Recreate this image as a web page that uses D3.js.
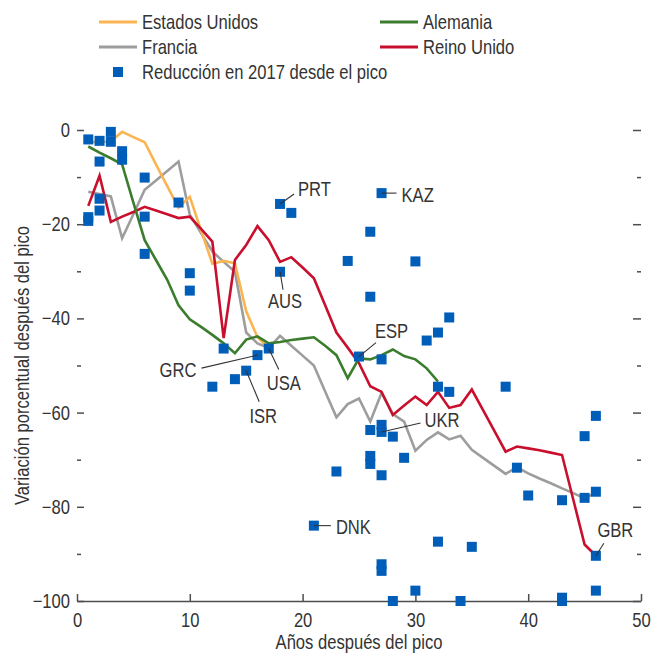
<!DOCTYPE html>
<html><head><meta charset="utf-8">
<script src="https://cdn.jsdelivr.net/npm/d3@7"></script>
<style>
body{margin:0;background:#fff}
svg text{font-family:"Liberation Sans Narrow","Arial Narrow","Liberation Sans",sans-serif;font-size:20px;fill:#333}
</style></head><body>
<svg id="c" width="653" height="654"></svg>
<script>
// ---------- data ----------
const usYears   = [1,2,3,4,5,6,7,8,9,10,11,12,13,14,15,16,17];
const usValues  = [-2.5,-2.6,-2.4,-0.4,-1.5,-2.6,-7.3,-11.9,-16.5,-14.2,-21.3,-28.4,-27.8,-28.3,-38.5,-44.0,-46.3];

const deYears   = [1,2,3,4,5,6,7,8,9,10,11,12,13,14,15,16,17,18,19,20,21,22,23,24,25,26,27,28,29,30,31,32];
const deValues  = [-3.5,-4.8,-6.0,-7.3,-15.4,-23.4,-27.6,-31.8,-37.2,-40.2,
                   -41.8,-43.5,-45.3,-47.4,-44.5,-43.8,-45.3,-45.0,-44.6,-44.3,
                   -44.0,-45.8,-47.8,-52.7,-48.5,-48.7,-47.8,-46.6,-48.0,-48.7,
                   -50.6,-53.4];

const frYears   = [1,2,3,4,5,6,7,8,9,10,11,12,13,14,15,16,17,18,19,20,21,22,23,24,25,26,27,28,29,30,31,32,33,34,35,36,37,38,39,40,41,42,43,44,45,46];
const frValues  = [-13.1,-13.6,-14.1,-23.0,-17.9,-12.7,-10.7,-8.7,-6.7,-18.0,
                   -21.9,-25.8,-28.0,-30.1,-43.0,-45.3,-46.3,-43.7,-45.8,-47.9,
                   -50.0,-55.5,-61.0,-58.2,-57.0,-61.9,-55.8,-60.3,-61.9,-68.1,
                   -65.8,-64.2,-65.7,-64.9,-67.9,-69.6,-71.3,-73.0,-71.6,-72.9,
                   -74.0,-75.0,-76.1,-77.1,-78.2,-77.0];

const ukYears   = [1,2,3,4,5,6,7,8,9,10,11,12,13,14,15,16,17,18,19,20,21,22,23,24,25,26,27,28,29,30,31,32,33,34,35,36,37,38,39,40,41,42,43,44,45,46];
const ukValues  = [-16.1,-9.7,-19.5,-18.4,-17.4,-16.3,-17.1,-17.9,-18.7,-18.4,
                   -21.0,-23.7,-44.2,-27.6,-24.4,-20.4,-23.4,-28.0,-27.0,-29.2,
                   -31.5,-37.2,-43.0,-46.2,-49.5,-54.4,-55.6,-60.5,-58.5,-56.6,
                   -58.4,-55.6,-59.0,-58.4,-55.1,-59.5,-63.9,-68.3,-67.2,-67.6,
                   -68.0,-68.5,-69.0,-78.5,-88.0,-90.4];

// Reducción en 2017 desde el pico (one square per country)
const dotYears  = [1,1,1, 2,2,2,2, 3,3, 4,4, 6,6,6, 9, 10,10, 12, 13, 14, 15, 16, 17, 18,18, 19, 21, 23, 24, 25,
                   26,26,26,26,26, 27,27,27,27,27,27,27, 28,28, 29, 30,30, 31, 32,32,32, 33,33, 34, 35, 38, 39, 40,
                   43,43,43, 45,45, 46,46,46,46];
const dotValues = [-2.0,-18.5,-19.3, -2.3,-6.7,-14.6,-17.1, -0.4,-2.5, -4.5,-6.3, -10.1,-18.4,-26.3, -15.4, -30.4,-34.1, -54.5, -46.4, -52.9, -51.1, -47.8, -46.4, -15.7,-30.1, -17.6, -84.0, -72.5, -27.8, -48.1,
                   -21.6,-35.4,-63.7,-69.2,-70.9, -13.4,-48.7,-62.6,-64.1,-73.3,-92.2,-93.6, -65.1,-100, -69.6, -27.9,-97.8, -44.7, -43.0,-54.5,-87.4, -39.8,-55.6, -100, -88.5, -54.5, -71.7, -77.6,
                   -78.6,-99.3,-100, -65.0,-78.1, -60.7,-76.8,-90.4,-97.8];

const labelNames  = ["PRT","KAZ","AUS","ESP","GRC","USA","ISR","UKR","DNK","GBR"];
const labelYears  = [18,27,18,25,16,17,15,27,21,46];
const labelValues = [-15.7,-13.4,-30.1,-48.1,-47.8,-46.4,-51.1,-64.1,-84.0,-90.4];

const xTicks = [0,10,20,30,40,50];
const xTickLabels = ["0","10","20","30","40","50"];
const yTicks = [0,-20,-40,-60,-80,-100];
const yTickLabels = ["0","\u221220","\u221240","\u221260","\u221280","\u2212100"];
const yMinorTicks = [-10,-30,-50,-70,-90];

const seriesNames = ["Estados Unidos","Alemania","Francia","Reino Unido"];
const dotName = "Reducción en 2017 desde el pico";
const xTitle = "Años después del pico";
const yTitle = "Variación porcentual después del pico";

// ---------- layout / style ----------
const colors = {us:"#fbb452", de:"#3a7d2c", fr:"#9d9d9d", uk:"#c8102e", dot:"#005eb8"};
const SX = 0.83; // horizontal condensing of the sans font
const annotLayout = {
  PRT:{l:[14,-10], t:[18,-8,"start"]},
  KAZ:{l:[15,0],   t:[20,8.5,"start"]},
  AUS:{l:[3,18],   t:[5,36.5,"middle"]},
  ESP:{l:[17,-14], t:[16,-19,"start"]},
  GRC:{l:[-56,13], t:[-61,22,"end"]},
  USA:{l:[10,21],  t:[15,41,"middle"]},
  ISR:{l:[13,31],  t:[17,52,"middle"]},
  UKR:{l:[39,-9],  t:[43,-5,"start"]},
  DNK:{l:[17,0],   t:[22,8,"start"]},
  GBR:{l:[8,-12.5],t:[1.5,-19,"start"]}
};

function condense(sel, extra){
  sel.each(function(){
    const t = d3.select(this);
    const tx = +t.attr("x")||0, ty = +t.attr("y")||0;
    t.attr("x",0).attr("y",0)
     .attr("transform",`translate(${tx},${ty})${extra||""} scale(${SX},1)`);
  });
}

const svg = d3.select("#c");
const x = d3.scaleLinear().domain([0,50]).range([77,641]);
const y = d3.scaleLinear().domain([-100,0]).range([601,130]);
const axisColor = "#4d4d4d";

// axes
const gx = svg.append("g").attr("transform",`translate(0,${y(-100)})`)
  .call(d3.axisBottom(x).tickValues(xTicks).tickFormat((d,i)=>xTickLabels[i]).tickSize(-7).tickSizeOuter(0).tickPadding(12));
gx.select(".domain").attr("stroke",axisColor).attr("stroke-width",1.6);
gx.selectAll(".tick line").attr("stroke",axisColor).attr("stroke-width",1.5);
gx.selectAll("text").attr("font-size",20).attr("fill","#333").attr("font-family",null).call(condense);

const gy = svg.append("g").attr("transform",`translate(${x(0)},0)`)
  .call(d3.axisLeft(y).tickValues(yTicks).tickFormat((d,i)=>yTickLabels[i]).tickSize(-7).tickPadding(7));
gy.select(".domain").remove();
gy.selectAll(".tick line").attr("stroke",axisColor).attr("stroke-width",1.5);
gy.selectAll("text").attr("font-size",20).attr("fill","#333").attr("font-family",null).call(condense);

const gym = svg.append("g").attr("transform",`translate(${x(0)},0)`)
  .call(d3.axisLeft(y).tickValues(yMinorTicks).tickFormat("").tickSize(-4));
gym.select(".domain").remove();
gym.selectAll(".tick line").attr("stroke",axisColor).attr("stroke-width",1.5);

const gr = svg.append("g").attr("transform",`translate(${x(50)},0)`)
  .call(d3.axisRight(y).tickValues(yTicks).tickFormat("").tickSize(-8));
gr.select(".domain").remove();
gr.selectAll(".tick line").attr("stroke",axisColor).attr("stroke-width",1.5);
const grm = svg.append("g").attr("transform",`translate(${x(50)},0)`)
  .call(d3.axisRight(y).tickValues(yMinorTicks).tickFormat("").tickSize(-4));
grm.select(".domain").remove();
grm.selectAll(".tick line").attr("stroke",axisColor).attr("stroke-width",1.5);

// titles
svg.append("text").attr("x",(x(0)+x(50))/2).attr("y",649).attr("text-anchor","middle").text(xTitle).call(condense);
svg.append("text").attr("x",29).attr("y",(y(0)+y(-100))/2).attr("text-anchor","middle").text(yTitle).call(condense," rotate(-90)");

// lines
const line = d3.line().x(d=>x(d[0])).y(d=>y(d[1]));
const zip = (a,b)=>a.map((v,i)=>[v,b[i]]);
const series = [
  {k:"fr", d:zip(frYears,frValues)},
  {k:"us", d:zip(usYears,usValues)},
  {k:"uk", d:zip(ukYears,ukValues)},
  {k:"de", d:zip(deYears,deValues)}
];
svg.append("g").selectAll("path").data(series).join("path")
  .attr("d",s=>line(s.d)).attr("fill","none").attr("stroke",s=>colors[s.k])
  .attr("stroke-width",2.6).attr("stroke-linejoin","miter");

// squares
const sq = 10;
svg.append("g").selectAll("rect").data(zip(dotYears,dotValues)).join("rect")
  .attr("x",d=>x(d[0])-sq/2).attr("y",d=>y(d[1])-sq/2).attr("width",sq).attr("height",sq)
  .attr("fill",colors.dot);

// annotations
const ann = svg.append("g");
labelNames.forEach((n,i)=>{
  const px = x(labelYears[i]), py = y(labelValues[i]), L = annotLayout[n];
  ann.append("line").attr("x1",px).attr("y1",py).attr("x2",px+L.l[0]).attr("y2",py+L.l[1])
    .attr("stroke","#333").attr("stroke-width",1.1);
  ann.append("text").attr("x",px+L.t[0]).attr("y",py+L.t[1]).attr("text-anchor",L.t[2]).text(n).call(condense);
});

// legend
const leg = svg.append("g");
const legItems = [
  {k:"us", name:seriesNames[0], lx:99,  ty:22},
  {k:"de", name:seriesNames[1], lx:380, ty:22},
  {k:"fr", name:seriesNames[2], lx:99,  ty:47},
  {k:"uk", name:seriesNames[3], lx:380, ty:47}
];
legItems.forEach(it=>{
  leg.append("line").attr("x1",it.lx).attr("x2",it.lx+38).attr("y1",it.ty).attr("y2",it.ty)
    .attr("stroke",colors[it.k]).attr("stroke-width",3);
  leg.append("text").attr("x",it.lx+43).attr("y",it.ty).attr("dy","0.35em").text(it.name).call(condense);
});
leg.append("rect").attr("x",113).attr("y",67).attr("width",10).attr("height",10).attr("fill",colors.dot);
leg.append("text").attr("x",142).attr("y",72).attr("dy","0.35em").text(dotName).call(condense);
</script>
</body></html>
